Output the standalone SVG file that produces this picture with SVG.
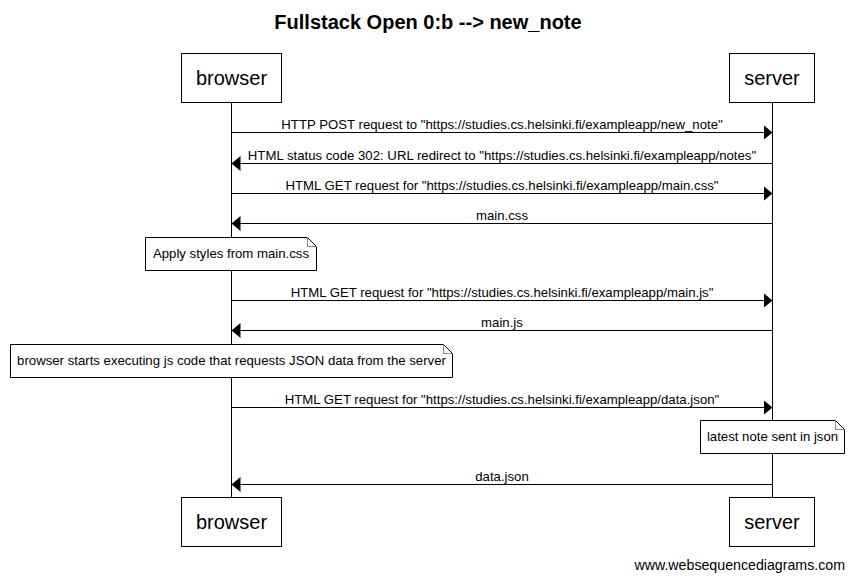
<svg xmlns="http://www.w3.org/2000/svg" width="854" height="581" viewBox="0 0 854 581">
<style>
text{font-family:"Liberation Sans",Arial,sans-serif;fill:#000}
.title{font-size:20px;font-weight:bold;text-anchor:middle}
.part{font-size:20px;text-anchor:middle}
.msg{font-size:13.2px;text-anchor:middle}
.box{fill:#fff;stroke:#000;stroke-width:1}
.life{stroke:#000;stroke-width:1}
.line{stroke:#000;stroke-width:1;fill:none;marker-end:url(#ah)}
.note{fill:#fff;stroke:#000;stroke-width:1}
.fold{fill:none;stroke:#888;stroke-width:1}
.foot{font-size:14.2px;text-anchor:end}
</style>
<defs>
<marker id="ah" markerWidth="10" markerHeight="16" refX="9" refY="8" orient="auto" markerUnits="userSpaceOnUse">
<path d="M0,0.5 L9,8 L0,15.5 z" fill="#000"/>
</marker>
</defs>
<rect width="854" height="581" fill="#fff"/>
<text class="title" x="428" y="29">Fullstack Open 0:b --&gt; new_note</text>
<g id="lifelines">
<line class="life" x1="231.5" y1="102" x2="231.5" y2="497"/>
<line class="life" x1="772.5" y1="102" x2="772.5" y2="497"/>
</g>
<g id="browser-top"><rect class="box" x="181.5" y="53.5" width="100" height="49"/><text class="part" x="231.5" y="85">browser</text></g>
<g id="server-top"><rect class="box" x="729.5" y="53.5" width="85" height="49"/><text class="part" x="772" y="85">server</text></g>
<g id="browser-bottom"><rect class="box" x="181.5" y="497.5" width="100" height="49"/><text class="part" x="231.5" y="529">browser</text></g>
<g id="server-bottom"><rect class="box" x="729.5" y="497.5" width="85" height="49"/><text class="part" x="772" y="529">server</text></g>
<g id="connectors">
<line class="line" x1="231.5" y1="132.5" x2="772.5" y2="132.5"/>
<text class="msg" x="502" y="129">HTTP POST request to "https://studies.cs.helsinki.fi/exampleapp/new_note"</text>
<line class="line" x1="772.5" y1="163.5" x2="231.5" y2="163.5"/>
<text class="msg" x="502" y="160">HTML status code 302: URL redirect to "https://studies.cs.helsinki.fi/exampleapp/notes"</text>
<line class="line" x1="231.5" y1="193.5" x2="772.5" y2="193.5"/>
<text class="msg" x="502" y="190">HTML GET request for "https://studies.cs.helsinki.fi/exampleapp/main.css"</text>
<line class="line" x1="772.5" y1="223.5" x2="231.5" y2="223.5"/>
<text class="msg" x="502" y="220">main.css</text>
<line class="line" x1="231.5" y1="300.5" x2="772.5" y2="300.5"/>
<text class="msg" x="502" y="297">HTML GET request for "https://studies.cs.helsinki.fi/exampleapp/main.js"</text>
<line class="line" x1="772.5" y1="330.5" x2="231.5" y2="330.5"/>
<text class="msg" x="502" y="327">main.js</text>
<line class="line" x1="231.5" y1="407.5" x2="772.5" y2="407.5"/>
<text class="msg" x="502" y="404">HTML GET request for "https://studies.cs.helsinki.fi/exampleapp/data.json"</text>
<line class="line" x1="772.5" y1="484.5" x2="231.5" y2="484.5"/>
<text class="msg" x="502" y="481">data.json</text>
</g>
<g id="note1">
<path class="note" d="M145.5,237.5 H307.5 L316.5,246.5 V270.5 H145.5 Z"/>
<path class="fold" d="M307.5,237.5 V246.5 H316.5"/>
<text class="msg" x="231" y="258">Apply styles from main.css</text>
</g>
<g id="note2">
<path class="note" d="M10.5,344.5 H443.5 L452.5,353.5 V377.5 H10.5 Z"/>
<path class="fold" d="M443.5,344.5 V353.5 H452.5"/>
<text class="msg" x="231.5" y="365">browser starts executing js code that requests JSON data from the server</text>
</g>
<g id="note3">
<path class="note" d="M700.5,420.5 H835.5 L844.5,429.5 V453.5 H700.5 Z"/>
<path class="fold" d="M835.5,420.5 V429.5 H844.5"/>
<text class="msg" x="772.5" y="441">latest note sent in json</text>
</g>
<text class="foot" x="845" y="570">www.websequencediagrams.com</text>
</svg>
